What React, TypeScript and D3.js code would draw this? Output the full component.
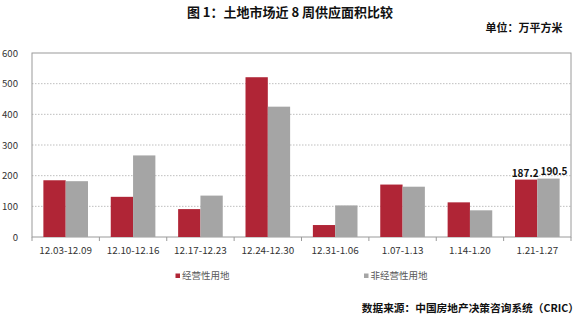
import React from "react";
import * as d3 from "d3";

const categories = ["12.03-12.09", "12.10-12.16", "12.17-12.23", "12.24-12.30", "12.31-1.06", "1.07-1.13", "1.14-1.20", "1.21-1.27"];
const commercial = [185, 131, 91, 521, 39, 171, 113, 187.2];
const nonCommercial = [182, 266, 135, 425, 103, 164, 87, 190.5];
const yTicks = [0, 100, 200, 300, 400, 500, 600];
const seriesNames = ["经营性用地", "非经营性用地"];
const colors = ["#B02536", "#A5A5A5"];

const W = 588, H = 315;
const left = 32, right = 571, top = 53, bottom = 237;

export default function App() {
  const x = d3.scaleBand<string>().domain(categories).range([left, right]).paddingInner(0).paddingOuter(0);
  const inner = d3.scaleBand<number>().domain([0, 1]).range([0, x.bandwidth()]).paddingOuter(0.51).paddingInner(0);
  const y = d3.scaleLinear().domain([0, 600]).range([bottom, top]);
  const series = [commercial, nonCommercial];
  const font = "'Microsoft YaHei', 'Noto Sans CJK SC', 'Noto Sans', sans-serif";
  const last = categories.length - 1;
  return (
    <svg width={W} height={H} style={{ position: "absolute", left: 0, top: 0 }} fontFamily={font}>
      <rect width={W} height={H} fill="#fff" />
      <text x={290} y={16.5} textAnchor="middle" fontSize={13} fontWeight="bold" fill="#111">图 1：土地市场近 8 周供应面积比较</text>
      <text x={562.5} y={32} textAnchor="end" fontSize={11} fontWeight="bold" fill="#111">单位：万平方米</text>
      {yTicks.filter(t => t > 0 && t < 600).map(t => (
        <line key={t} x1={left} x2={right} y1={y(t)} y2={y(t)} stroke="#BFBFBF" strokeDasharray="1.5,1.5" strokeWidth={1} />
      ))}
      <rect x={left} y={y(600)} width={right - left} height={bottom - y(600)} fill="none" stroke="#9A9A9A" strokeWidth={1} />
      {yTicks.map(t => (
        <text key={t} x={18} y={y(t) + 3.5} textAnchor="end" fontSize={9.6} fill="#333">{t}</text>
      ))}
      {series.map((vals, si) => vals.map((v, i) => (
        <rect key={`${si}-${i}`} x={x(categories[i])! + inner(si)!} y={y(v)} width={inner.bandwidth()} height={y(0) - y(v)} fill={colors[si]} />
      )))}
      {d3.range(categories.length + 1).map(i => {
        const xx = left + i * x.bandwidth();
        return <line key={i} x1={xx} x2={xx} y1={bottom} y2={bottom + 4} stroke="#9A9A9A" />;
      })}
      {categories.map(c => (
        <text key={c} x={x(c)! + x.bandwidth() / 2} y={254} textAnchor="middle" fontSize={9.9} fill="#333">{c}</text>
      ))}
      {series.map((vals, si) => (
        <text key={si} x={x(categories[last])! + inner(si)! + inner.bandwidth() / 2 + (si === 0 ? -1 : 5.5)} y={y(vals[last]) - (si === 0 ? 3 : 4)} textAnchor="middle" fontSize={10} fontWeight="bold" fill="#111">{vals[last].toFixed(1)}</text>
      ))}
      {seriesNames.map((n, i) => {
        const lx = i === 0 ? 175.5 : 364;
        return (
          <g key={n}>
            <rect x={lx} y={273.5} width={4.5} height={4.5} fill={colors[i]} />
            <text x={lx + 6.5} y={279} fontSize={9.5} fill="#595959">{n}</text>
          </g>
        );
      })}
      <text x={579} y={311.5} textAnchor="end" fontSize={10.7} fontWeight="bold" fill="#111">数据来源：中国房地产决策咨询系统（CRIC）</text>
    </svg>
  );
}
